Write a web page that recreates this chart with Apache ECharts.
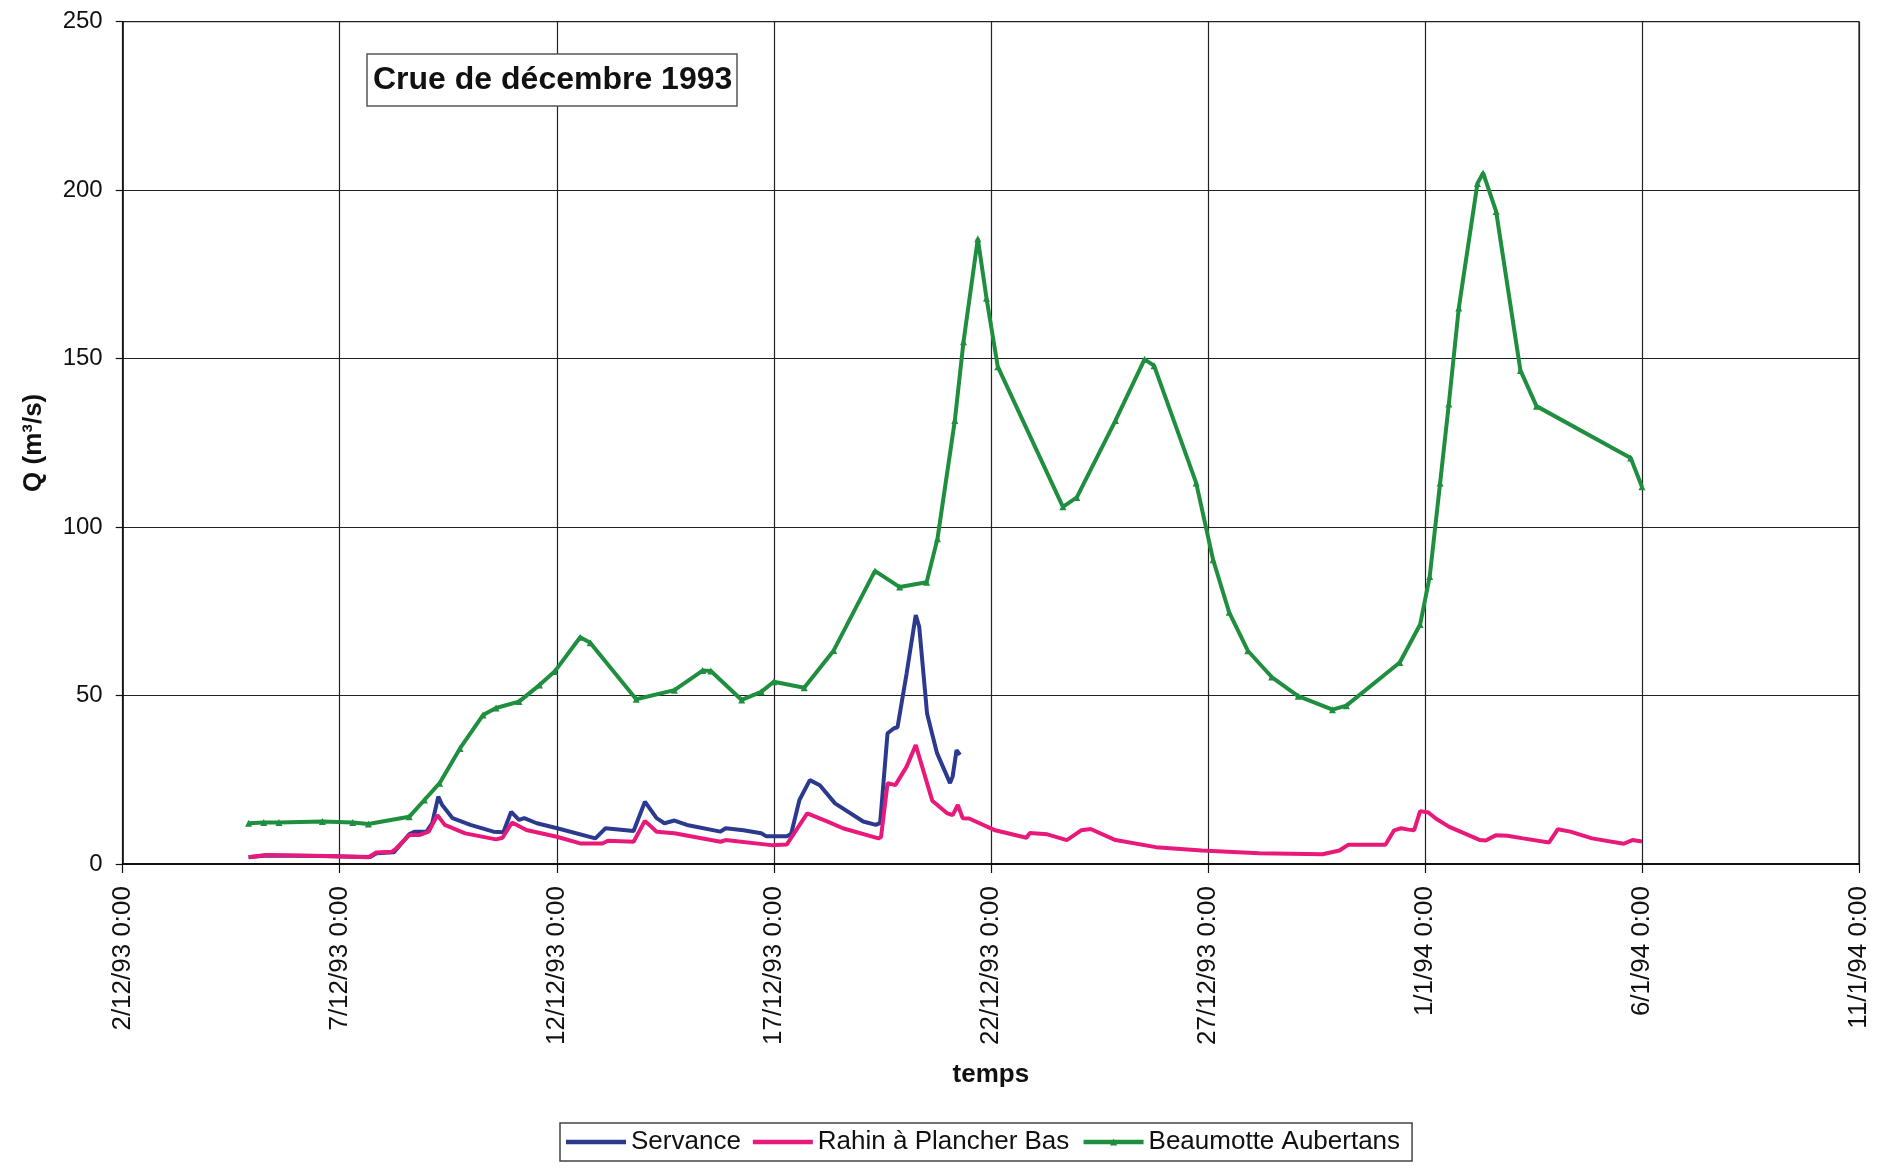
<!DOCTYPE html>
<html>
<head>
<meta charset="utf-8">
<script src="https://cdn.jsdelivr.net/npm/echarts@6/dist/echarts.min.js"></script>
<style>
  html, body { margin: 0; padding: 0; background: #fff; }
  #chart { width: 1887px; height: 1169px; }
</style>
</head>
<body>
<div id="chart"></div>
<script>
// x values are days since 2/12/93 0:00
const xTickLabels = ['2/12/93 0:00', '7/12/93 0:00', '12/12/93 0:00', '17/12/93 0:00', '22/12/93 0:00',
                     '27/12/93 0:00', '1/1/94 0:00', '6/1/94 0:00', '11/1/94 0:00'];
const yTicks = [0, 50, 100, 150, 200, 250];
const seriesNames = ['Servance', 'Rahin à Plancher Bas', 'Beaumotte Aubertans'];

const servanceT = [2.9, 3.3, 4.5, 5.7, 5.85, 6.25, 6.6, 6.72, 7.0, 7.13, 7.27, 7.36, 7.6, 8.01, 8.54, 8.77,
  8.95, 9.13, 9.25, 9.54, 10.01, 10.89, 11.12, 11.3, 11.77, 12.03, 12.3, 12.48, 12.71, 13.0, 13.77, 13.89,
  14.3, 14.71, 14.83, 15.3, 15.4, 15.59, 15.83, 16.06, 16.41, 17.06, 17.35, 17.45, 17.62, 17.77, 17.85,
  18.06, 18.27, 18.35, 18.53, 18.76, 19.06, 19.12, 19.21, 19.29];
const servanceQ = [2.0, 2.5, 2.4, 2.1, 3.2, 3.5, 8.8, 9.6, 9.6, 12.1, 20.0, 17.5, 13.6, 11.6, 9.6, 9.4,
  15.5, 13.1, 13.6, 12.1, 10.6, 7.6, 10.6, 10.4, 9.8, 18.5, 13.6, 12.1, 12.9, 11.6, 9.6, 10.6,
  10.0, 9.1, 8.2, 8.2, 9.0, 19.0, 24.9, 23.4, 18.0, 12.6, 11.6, 12.2, 38.8, 40.3, 40.6,
  56.6, 73.9, 70.4, 44.7, 32.9, 24.0, 26.0, 33.8, 32.4];

const rahinT = [2.9, 3.3, 4.7, 5.66, 5.84, 6.2, 6.3, 6.6, 6.83, 7.05, 7.25, 7.42, 7.89, 8.6, 8.75, 8.97,
  9.3, 10.0, 10.54, 11.05, 11.18, 11.77, 12.03, 12.3, 12.71, 13.77, 13.89, 14.94, 15.3, 15.77, 16.24,
  16.59, 17.41, 17.47, 17.62, 17.8, 18.06, 18.27, 18.65, 19.0, 19.12, 19.24, 19.35, 19.5, 20.1, 20.82,
  20.9, 21.3, 21.75, 22.08, 22.3, 22.87, 23.8, 24.86, 26.18, 27.64, 28.03, 28.23, 29.09, 29.29, 29.45,
  29.62, 29.75, 29.89, 30.08, 30.25, 30.55, 31.27, 31.4, 31.63, 31.9, 32.26, 32.86, 33.06, 33.35,
  33.85, 34.58, 34.78, 35.0];
const rahinQ = [2.0, 2.7, 2.4, 2.0, 3.4, 3.6, 4.6, 8.6, 8.6, 9.6, 14.5, 11.6, 9.1, 7.3, 7.8, 12.3,
  10.1, 8.1, 6.1, 6.1, 6.9, 6.6, 12.8, 9.6, 9.1, 6.6, 7.1, 5.6, 5.8, 15.0, 12.6,
  10.6, 7.6, 8.0, 24.0, 23.4, 28.9, 35.3, 18.8, 15.0, 14.5, 17.5, 13.6, 13.5, 10.0, 7.8,
  9.2, 8.8, 7.1, 10.0, 10.4, 7.1, 5.0, 4.0, 3.2, 2.9, 4.0, 5.7, 5.7, 10.0, 10.6,
  10.2, 10.0, 15.7, 15.3, 13.5, 11.1, 7.1, 7.0, 8.5, 8.4, 7.6, 6.4, 10.3, 9.6,
  7.6, 6.0, 7.1, 6.7];

const beaumotteT = [2.9, 3.25, 3.6, 4.6, 5.3, 5.66, 6.6, 6.95, 7.3, 7.77, 8.3, 8.6, 9.13, 9.6, 9.95,
  10.54, 10.77, 11.83, 12.71, 13.36, 13.55, 14.26, 14.71, 15.0, 15.7, 16.38, 17.33, 17.9, 18.52, 18.77,
  19.17, 19.37, 19.7, 19.9, 20.16, 21.66, 21.98, 22.87, 23.54, 23.76, 24.73, 25.12, 25.49, 25.92,
  26.47, 27.08, 27.87, 28.19, 29.42, 29.89, 30.11, 30.35, 30.55, 30.78, 31.21, 31.34, 31.64, 32.2,
  32.57, 34.74, 35.0];
const beaumotteQ = [12.1, 12.3, 12.3, 12.6, 12.3, 11.9, 14.0, 19.0, 24.0, 34.3, 44.2, 46.3, 48.2, 53.1, 57.1,
  67.3, 65.7, 48.9, 51.6, 57.4, 57.3, 48.7, 51.1, 54.1, 52.3, 63.4, 87.0, 82.2, 83.6, 96.5,
  131.6, 155.0, 185.6, 167.9, 147.6, 106.0, 108.8, 131.6, 149.8, 147.9, 113.1, 90.3, 74.7, 63.3,
  55.5, 49.8, 45.8, 47.0, 59.8, 71.1, 85.3, 113.1, 136.5, 165.0, 202.0, 205.1, 193.7, 146.5,
  135.9, 120.5, 112.0];

const zip = (t, q) => t.map((d, i) => [d, q[i]]);
const FONT = '"Liberation Sans", Arial, sans-serif';
const COLORS = ['#2b3a8f', '#e8197a', '#1f8f3f'];
const LINE_ICON = 'path://M0,0H60V4.5H0Z';

const chart = echarts.init(document.getElementById('chart'), null, { renderer: 'canvas' });
chart.setOption({
  animation: false,
  backgroundColor: '#fff',
  title: {
    text: 'Crue de décembre 1993',
    left: 367, top: 54,
    padding: [8, 5, 8, 6],
    borderColor: '#555', borderWidth: 1.5,
    backgroundColor: '#fff',
    textStyle: { fontFamily: FONT, fontWeight: 'bold', fontSize: 32, lineHeight: 36, color: '#111' }
  },
  grid: { left: 122.7, right: 28, top: 21.7, bottom: 305, show: true, borderColor: '#222', borderWidth: 1.2 },
  legend: {
    left: 560, top: 1123,
    padding: [6, 12, 6, 6],
    borderColor: '#444', borderWidth: 1.5,
    itemWidth: 60, itemHeight: 9, itemGap: 12,
    textStyle: { fontFamily: FONT, fontSize: 26, color: '#111' },
    data: [
      { name: seriesNames[0], icon: LINE_ICON },
      { name: seriesNames[1], icon: LINE_ICON },
      { name: seriesNames[2], lineStyle: { width: 4.5, color: COLORS[2] } }
    ]
  },
  xAxis: {
    type: 'value', min: 0, max: 40, interval: 5,
    name: 'temps', nameLocation: 'middle', nameGap: 198,
    nameTextStyle: { fontFamily: FONT, fontWeight: 'bold', fontSize: 26, color: '#111' },
    axisLine: { lineStyle: { color: '#111', width: 2 } },
    axisTick: { show: true, length: 9, lineStyle: { color: '#111', width: 1.2 } },
    axisLabel: {
      rotate: 90, margin: 22,
      fontFamily: FONT, fontSize: 26, color: '#111',
      formatter: v => xTickLabels[Math.round(v / 5)]
    },
    splitLine: { show: true, lineStyle: { color: '#222', width: 1.2 } }
  },
  yAxis: {
    type: 'value', min: yTicks[0], max: yTicks[yTicks.length - 1], interval: 50,
    name: 'Q (m³/s)', nameLocation: 'middle', nameGap: 76, nameRotate: 90,
    nameTextStyle: { fontFamily: FONT, fontWeight: 'bold', fontSize: 26, color: '#111' },
    axisLine: { show: true, lineStyle: { color: '#111', width: 1.5 } },
    axisTick: { show: true, length: 7, lineStyle: { color: '#111', width: 1.2 } },
    axisLabel: { margin: 20, fontFamily: FONT, fontSize: 24, color: '#111' },
    splitLine: { show: true, lineStyle: { color: '#222', width: 1.2 } }
  },
  series: [
    {
      name: seriesNames[0], type: 'line', data: zip(servanceT, servanceQ),
      symbol: 'none', lineStyle: { color: COLORS[0], width: 4 }, itemStyle: { color: COLORS[0] }, z: 2
    },
    {
      name: seriesNames[1], type: 'line', data: zip(rahinT, rahinQ),
      symbol: 'none', lineStyle: { color: COLORS[1], width: 4 }, itemStyle: { color: COLORS[1] }, z: 3
    },
    {
      name: seriesNames[2], type: 'line', data: zip(beaumotteT, beaumotteQ),
      symbol: 'triangle', symbolSize: 7, showSymbol: true,
      lineStyle: { color: COLORS[2], width: 4 }, itemStyle: { color: COLORS[2] }, z: 4
    }
  ]
});
</script>
</body>
</html>
